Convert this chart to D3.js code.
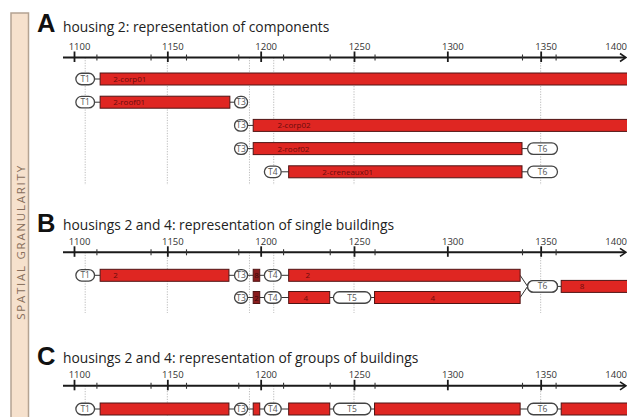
<!DOCTYPE html>
<html><head><meta charset="utf-8">
<script src="https://cdn.jsdelivr.net/npm/d3@7"></script>
<style>html,body{margin:0;padding:0;background:#fff;overflow:hidden}</style>
</head><body>
<svg id="chart" width="627" height="417"></svg>
<script>
// ---------- data ----------
const majorYears = [1100, 1150, 1200, 1250, 1300, 1350, 1400];
const minorYears = [1112, 1141, 1160, 1188, 1212, 1237, 1261, 1340, 1358];
const guideYears = [1106, 1150, 1194, 1207, 1250, 1350];

const transitionNames = ["T1", "T3", "T4", "T5", "T6"];
const transitionStart = [1101, 1186, 1202, 1239, 1343];
const transitionEnd   = [1111, 1193, 1211, 1259, 1359];

const panelLetters = ["A", "B", "C"];
const panelTitles = [
  "housing 2: representation of components",
  "housings 2 and 4: representation of single buildings",
  "housings 2 and 4: representation of groups of buildings"
];
const sideLabel = "SPATIAL GRANULARITY";

// each chain: sequence of items linked one after the other; lane = row
const chainsA = [
  [{t:"T1",lane:0},{bar:"2-corp01",start:1114,end:1400,labelAt:1121,lane:0}],
  [{t:"T1",lane:1},{bar:"2-roof01",start:1114,end:1183.5,labelAt:1121,lane:1},{t:"T3",lane:1}],
  [{t:"T3",lane:2},{bar:"2-corp02",start:1196,end:1400,labelAt:1209,lane:2}],
  [{t:"T3",lane:3},{bar:"2-roof02",start:1196,end:1340,labelAt:1209,lane:3},{t:"T6",lane:3}],
  [{t:"T4",lane:4},{bar:"2-creneaux01",start:1215,end:1340,labelAt:1233,lane:4},{t:"T6",lane:4}]
];
const chainsB = [
  [{t:"T1",lane:0},{bar:"2",start:1114,end:1183,labelAt:1121,lane:0},{t:"T3",lane:0},
   {bar:"8",start:1196,end:1199.5,lane:0,dark:true},{t:"T4",lane:0},
   {bar:"2",start:1215,end:1339,labelAt:1224,lane:0},{t:"T6",lane:0.5},
   {bar:"8",start:1361,end:1400,labelAt:1371,lane:0.5}],
  [{t:"T3",lane:1},{bar:"2",start:1196,end:1199.5,lane:1,dark:true},{t:"T4",lane:1},
   {bar:"4",start:1215,end:1237,labelAt:1223,lane:1},{t:"T5",lane:1},
   {bar:"4",start:1261,end:1339,labelAt:1291,lane:1},{t:"T6",lane:0.5}]
];
const chainsC = [
  [{t:"T1",lane:0},{bar:"",start:1114,end:1183,lane:0},{t:"T3",lane:0},
   {bar:"",start:1196,end:1199.5,lane:0},{t:"T4",lane:0},
   {bar:"",start:1215,end:1237,lane:0},{t:"T5",lane:0},
   {bar:"",start:1261,end:1339,lane:0},{t:"T6",lane:0},
   {bar:"",start:1361,end:1400,lane:0}]
];
const panelChains = [chainsA, chainsB, chainsC];

// ---------- layout ----------
const W = 627, H = 417;
const panelLayout = [
  {letterY: 32, titleY: 31.5, axisY: 57.5, laneY0: 79, laneStep: 23.2, guideEnd: 185},
  {letterY: 232, titleY: 229.5, axisY: 252.3, laneY0: 275.3, laneStep: 22.2, guideEnd: 313},
  {letterY: 365, titleY: 363, axisY: 385.8, laneY0: 409, laneStep: 22, guideEnd: 420}
];
const barH = 12, pillH = 11.5;
const RED = "#df2622", RED_STROKE = "#4f1414", DARK = "#8a1c1e";

const svg = d3.select("#chart");
const x = d3.scaleLinear().domain([1100, 1400]).range([74, 634]);

// sidebar
svg.append("rect").attr("x", 11).attr("y", 13).attr("width", 17.5).attr("height", 420)
  .attr("fill", "#f6e1cd").attr("stroke", "#b4a392").attr("stroke-width", 1.5);
svg.append("text").attr("transform", "translate(24.5,242) rotate(-90)")
  .attr("text-anchor", "middle").attr("font-family", "'Open Sans', sans-serif")
  .attr("font-size", 11.5).attr("letter-spacing", 1.75).attr("fill", "#876e5b").text(sideLabel);

const tIndex = name => transitionNames.indexOf(name);

panelChains.forEach((chains, p) => {
  const L = panelLayout[p];
  const g = svg.append("g");
  const laneY = lane => L.laneY0 + lane * L.laneStep;

  // letter + title
  g.append("text").attr("x", 37).attr("y", L.letterY)
    .attr("font-family", "'Liberation Sans', Arial, sans-serif").attr("font-weight", "bold")
    .attr("font-size", 25.5).attr("fill", "#111").text(panelLetters[p]);
  g.append("text").attr("x", 63).attr("y", L.titleY)
    .attr("font-family", "'Open Sans', sans-serif").attr("font-size", 13.8)
    .attr("fill", "#222").text(panelTitles[p]);

  // guides
  g.selectAll(".guide").data(guideYears).join("line")
    .attr("x1", d => x(d)).attr("x2", d => x(d))
    .attr("y1", L.axisY).attr("y2", L.guideEnd)
    .attr("stroke", "#aaa").attr("stroke-width", 0.8).attr("stroke-dasharray", "1.2,1.4");

  // axis
  const ax = g.append("g").attr("transform", `translate(0,${L.axisY})`);
  ax.append("line").attr("x1", 63).attr("x2", 625).attr("stroke", "#1a1a1a").attr("stroke-width", 2);
  ax.append("path").attr("d", "M620,-4 L626,0 L620,4").attr("fill", "none")
    .attr("stroke", "#1a1a1a").attr("stroke-width", 1.6);
  const major = ax.append("g").call(d3.axisTop(x).tickValues(majorYears).tickFormat(d3.format("d")).tickSize(6));
  major.select(".domain").remove();
  major.selectAll(".tick line").attr("y1", 4.5).attr("y2", -6).attr("stroke", "#1a1a1a").attr("stroke-width", 1.8);
  major.selectAll(".tick text").attr("y", -7.5).attr("dy", 0).attr("dx", 5)
    .attr("font-family", "'Open Sans', sans-serif").attr("font-size", 9.5).attr("fill", "#333");
  // last label sits just before the arrow, at the picture's edge
  major.selectAll(".tick").filter(d => d === majorYears[majorYears.length - 1])
    .select("text").attr("text-anchor", "end").attr("dx", 0).attr("x", W - x(majorYears[majorYears.length - 1]) - 0.5);
  const minor = ax.append("g").call(d3.axisTop(x).tickValues(minorYears).tickFormat("").tickSize(3));
  minor.select(".domain").remove();
  minor.selectAll(".tick line").attr("y1", 3).attr("y2", -3).attr("stroke", "#333").attr("stroke-width", 1.1);

  // items
  const itemExtent = it => it.t
    ? [x(transitionStart[tIndex(it.t)]), x(transitionEnd[tIndex(it.t)])]
    : [x(it.start), x(it.end)];

  chains.forEach(chain => {
    for (let i = 0; i < chain.length - 1; i++) {
      const a = chain[i], b = chain[i + 1];
      g.append("line")
        .attr("x1", itemExtent(a)[1]).attr("y1", laneY(a.lane))
        .attr("x2", itemExtent(b)[0]).attr("y2", laneY(b.lane))
        .attr("stroke", "#333").attr("stroke-width", 1);
    }
    chain.forEach(it => {
      const [x0, x1] = itemExtent(it);
      const cy = laneY(it.lane);
      if (it.t) {
        g.append("rect").attr("x", x0).attr("y", cy - pillH / 2)
          .attr("width", x1 - x0).attr("height", pillH).attr("rx", pillH / 2)
          .attr("fill", "#fff").attr("stroke", "#444").attr("stroke-width", 1.3);
        g.append("text").attr("x", (x0 + x1) / 2).attr("y", cy + 3)
          .attr("text-anchor", "middle").attr("font-family", "'Open Sans', sans-serif")
          .attr("font-size", 8.5).attr("fill", "#555").text(it.t);
      } else {
        g.append("rect").attr("x", x0).attr("y", cy - barH / 2)
          .attr("width", x1 - x0).attr("height", barH)
          .attr("fill", it.dark ? DARK : RED).attr("stroke", RED_STROKE).attr("stroke-width", 1);
        if (it.bar) {
          const lx = it.labelAt !== undefined ? x(it.labelAt) : (x0 + x1) / 2;
          g.append("text").attr("x", lx).attr("y", cy + 3)
            .attr("text-anchor", it.labelAt !== undefined ? "start" : "middle")
            .attr("font-family", "'Open Sans', sans-serif").attr("font-size", 8)
            .attr("fill", it.dark ? "#3a0a0a" : "#6a0c0c").text(it.bar);
        }
      }
    });
  });
});
</script>
</body></html>
